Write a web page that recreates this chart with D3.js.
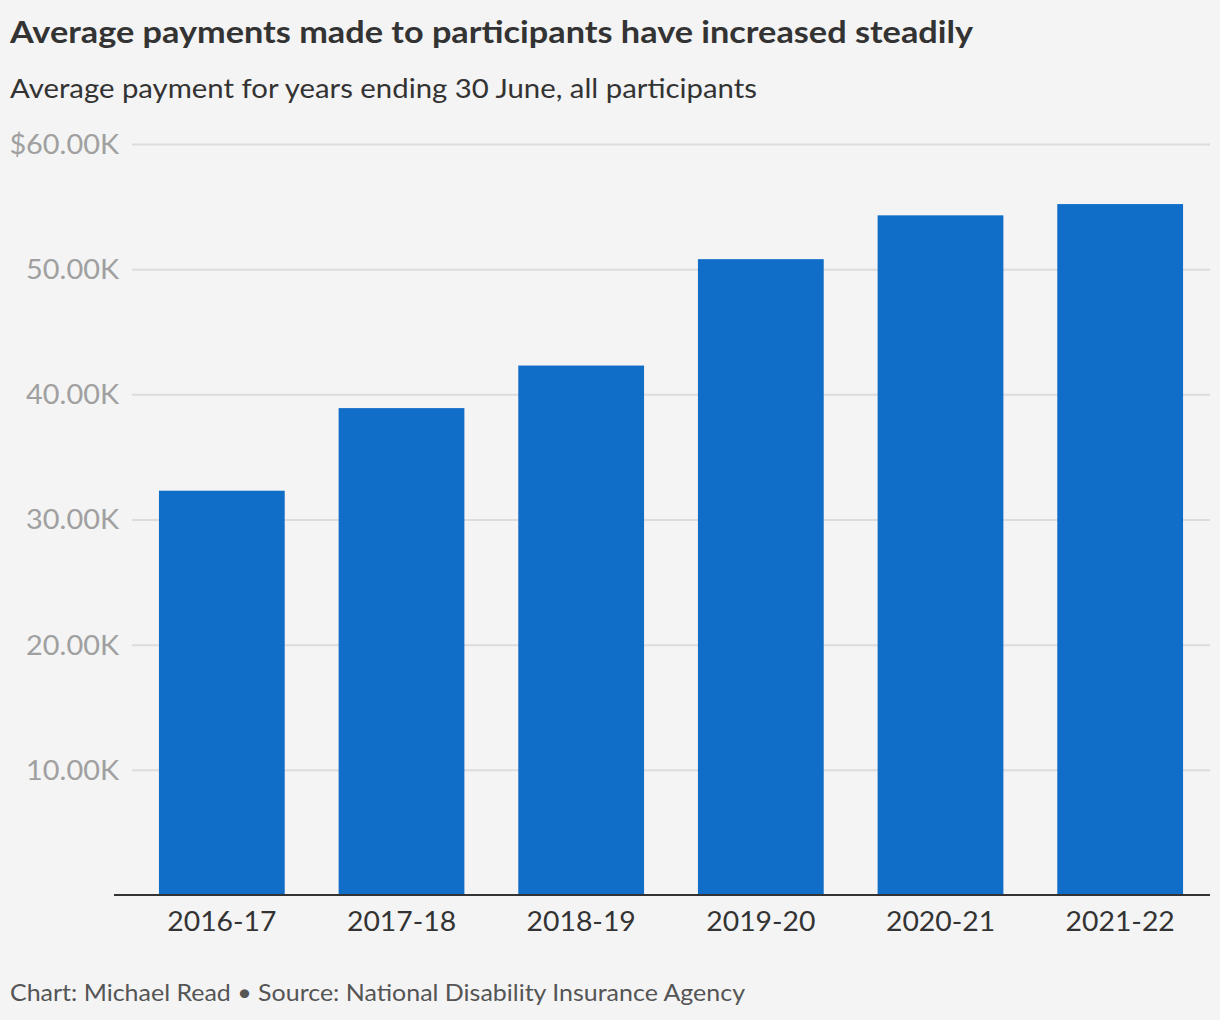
<!DOCTYPE html>
<html>
<head>
<meta charset="utf-8">
<script src="https://cdn.jsdelivr.net/npm/d3@7"></script>
<style>
  html, body { margin: 0; padding: 0; background: #f4f4f4; }
  svg { display: block; }
  text { font-family: Lato, "Open Sans", sans-serif; }
</style>
</head>
<body>
<svg id="chart" width="1220" height="1020"></svg>
<script>
const categories = ["2016-17", "2017-18", "2018-19", "2019-20", "2020-21", "2021-22"];
const values = [32.3, 38.9, 42.3, 50.8, 54.3, 55.2]; // thousands of dollars
const yTicks = [10, 20, 30, 40, 50, 60];
const yTickLabels = ["10.00K", "20.00K", "30.00K", "40.00K", "50.00K", "$60.00K"];

const titleText = "Average payments made to participants have increased steadily";
const subtitleText = "Average payment for years ending 30 June, all participants";
const footerText = "Chart: Michael Read \u2022 Source: National Disability Insurance Agency";

const svg = d3.select("#chart");
svg.append("rect").attr("width", 1220).attr("height", 1020).attr("fill", "#f4f4f4");

const x = d3.scaleBand().domain(categories).range([132, 1210]).paddingInner(0.3).paddingOuter(0.15);
const y = d3.scaleLinear().domain([0, 60]).range([895, 144]);

// title, subtitle
svg.append("text").attr("x", 10).attr("y", 42.5)
  .attr("font-size", 30.5).attr("font-weight", 700).attr("fill", "#333")
  .attr("textLength", 963).attr("lengthAdjust", "spacingAndGlyphs")
  .text(titleText);
svg.append("text").attr("x", 10).attr("y", 97.5)
  .attr("font-size", 26.5).attr("fill", "#333")
  .attr("textLength", 747).attr("lengthAdjust", "spacingAndGlyphs")
  .text(subtitleText);

function widen(sel, f) {
  sel.each(function() {
    const w = this.getComputedTextLength();
    d3.select(this).attr("textLength", w * f).attr("lengthAdjust", "spacingAndGlyphs");
  });
}

// gridlines + y labels
const yAxis = d3.axisLeft(y).tickValues(yTicks)
  .tickSize(-(1210 - 132))
  .tickFormat((d, i) => yTickLabels[i])
  .tickPadding(13);
const gy = svg.append("g").attr("transform", "translate(132,0)").call(yAxis);
gy.select(".domain").remove();
gy.selectAll(".tick line").attr("stroke", "#dcdcdc").attr("stroke-width", 2);
const yt = gy.selectAll(".tick text").attr("font-size", 26).attr("fill", "#a0a0a0")
  .attr("font-family", "Lato, sans-serif").attr("dy", "0.36em");
widen(yt, 1.11);

// bars
svg.append("g").selectAll("rect").data(values).join("rect")
  .attr("x", (d, i) => x(categories[i]))
  .attr("y", d => y(d))
  .attr("width", x.bandwidth())
  .attr("height", d => y(0) - y(d))
  .attr("fill", "#106dc8");

// x axis
const xAxis = d3.axisBottom(x).tickSize(0).tickPadding(18);
const gx = svg.append("g").attr("transform", "translate(0,895)").call(xAxis);
gx.select(".domain").remove();
const xt = gx.selectAll(".tick text").attr("font-size", 26).attr("fill", "#333")
  .attr("font-family", "Lato, sans-serif").attr("dy", "0.71em");
widen(xt, 1.09);
svg.append("line").attr("x1", 114).attr("x2", 1210).attr("y1", 895).attr("y2", 895)
  .attr("stroke", "#333").attr("stroke-width", 2);

// footer
svg.append("text").attr("x", 10).attr("y", 1001)
  .attr("font-size", 22.5).attr("fill", "#555")
  .attr("textLength", 735).attr("lengthAdjust", "spacingAndGlyphs")
  .text(footerText);
</script>
</body>
</html>
